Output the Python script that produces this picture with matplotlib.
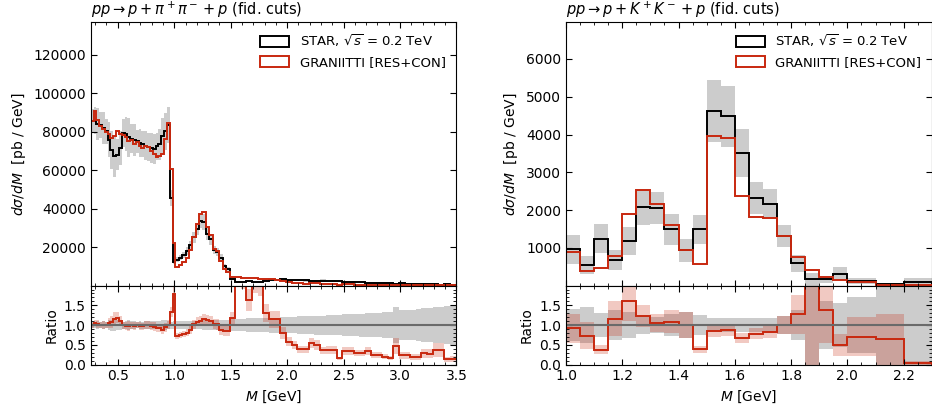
import numpy as np
import matplotlib
matplotlib.use('Agg')
import matplotlib.pyplot as plt
from matplotlib.patches import Patch
from matplotlib.ticker import MultipleLocator

# --- Data: pp -> p + pi+pi- + p ---
pipi_edges = np.round(np.concatenate([np.arange(0.26, 1.0, 0.025),
                                      np.arange(1.01, 1.48, 0.03),
                                      np.arange(1.49, 3.56, 0.05)]), 3)

star_pipi = [85700, 85700, 83900, 83300, 81900, 80100, 75800, 70600, 67100, 68000,
             71500, 79300, 78800, 77000, 76300, 75800, 74900, 74100, 73500, 72800,
             72100, 71500, 71100, 72300, 73500, 77600, 80100, 83500, 45400, 12400,
             13500, 14500, 16000, 18000, 21000, 25000, 29500, 33500, 33000, 27000,
             24000, 18500, 17500, 14500, 10000, 8500,
             3600, 1700, 1800, 2400, 1700, 1650, 2600, 2800, 2700, 3200,
             2900, 2800, 2800, 2700, 2500, 2400, 2600, 2400, 2200, 2500,
             1800, 1700, 1700, 1600, 1300, 1500, 1300, 1300, 1400, 700,
             1100, 1000, 1000, 950, 800, 750, 600, 550, 650, 550, 500]

star_pipi_relerr = [0.07, 0.08, 0.10, 0.08, 0.10, 0.08, 0.12, 0.14, 0.16, 0.12,
                    0.12, 0.09, 0.11, 0.13, 0.10, 0.11, 0.08, 0.10, 0.09, 0.10,
                    0.10, 0.11, 0.11, 0.10, 0.11, 0.12, 0.12, 0.11, 0.09, 0.10,
                    0.10, 0.10, 0.10, 0.11, 0.11, 0.11, 0.11, 0.11, 0.12, 0.12,
                    0.12, 0.12, 0.13, 0.13, 0.14, 0.14,
                    0.15, 0.16, 0.16, 0.17, 0.17, 0.18, 0.18, 0.19, 0.19, 0.20,
                    0.20, 0.21, 0.22, 0.22, 0.23, 0.24, 0.24, 0.25, 0.26, 0.26,
                    0.27, 0.28, 0.28, 0.29, 0.30, 0.30, 0.31, 0.32, 0.33, 0.45,
                    0.38, 0.38, 0.39, 0.40, 0.42, 0.43, 0.45, 0.46, 0.48, 0.50, 0.50]

gr_pipi = [85300, 90500, 86000, 83000, 81500, 80000, 79000, 76500, 77500, 80500,
           79000, 78500, 77000, 75000, 75500, 73500, 74500, 72500, 71500, 72500,
           72000, 70000, 68500, 67000, 67500, 68500, 76000, 84500, 60500, 22000,
           9800, 10800, 12300, 14500, 18500, 25500, 32000, 37000, 38000, 30500,
           26500, 19000, 17800, 12600, 8500, 7200,
           4200, 4200, 4100, 3940, 3700, 3500, 3380, 3220, 3100, 2560,
           1680, 1400, 1090, 1050, 1375, 1200, 960, 890, 810, 400,
           630, 595, 490, 464, 440, 360, 310, 260, 220, 330,
           264, 240, 200, 190, 225, 210, 222, 205, 90, 77, 70]

# --- Data: pp -> p + K+K- + p ---
kk_edges = np.round(np.concatenate([np.arange(1.0, 2.0, 0.05),
                                    np.arange(2.0, 2.35, 0.1)]), 3)

star_kk = [965, 533, 1238, 674, 1176, 2075, 2057, 1485, 930, 1485,
           4621, 4480, 3520, 2313, 2172, 1308, 586, 163, 163, 313,
           119, 31, 101]

star_kk_relerr = [0.40, 0.45, 0.31, 0.38, 0.32, 0.23, 0.21, 0.27, 0.33, 0.26,
                  0.18, 0.18, 0.18, 0.18, 0.18, 0.22, 0.39, 1.04, 0.60, 0.55,
                  0.70, 1.00, 1.00]

gr_kk = [885, 392, 463, 780, 1899, 2542, 2163, 1608, 930, 568,
         3952, 3907, 2374, 1811, 1784, 1308, 744, 401, 225, 154,
         84, 20, 5]

RED = '#c8280f'
GRAY = '0.8'
FS = 10
FS_LEG = 9.5
FS_TITLE = 10.5

plt.rcParams['font.size'] = FS
plt.rcParams['mathtext.fontset'] = 'dejavusans'

fig = plt.figure(figsize=(9.32, 4.11), dpi=100)


def style_axes(ax, xminor, yminor=None):
    ax.tick_params(which='both', direction='in', top=True, right=True, labelsize=FS)
    ax.tick_params(which='major', length=4.5)
    ax.tick_params(which='minor', length=2.2)
    ax.xaxis.set_minor_locator(MultipleLocator(xminor))
    if yminor is not None:
        ax.yaxis.set_minor_locator(MultipleLocator(yminor))


def draw_panel(x0, edges, star, relerr, gr, xlim, ylim, yticks, xmajor, xminor, title):
    star = np.array(star, dtype=float)
    relerr = np.array(relerr, dtype=float)
    gr = np.array(gr, dtype=float)

    ax = fig.add_axes([x0, 0.3052, 0.3925, 0.6413])
    axr = fig.add_axes([x0, 0.1129, 0.3925, 0.1923], sharex=ax)

    # main panel
    ax.stairs(star * (1 + relerr), edges, baseline=star * (1 - relerr),
              fill=True, color=GRAY, lw=0)
    ax.stairs(star, edges, color='black', lw=1.4)
    ax.stairs(gr, edges, color=RED, lw=1.4)
    ax.set_xlim(*xlim)
    ax.set_ylim(*ylim)
    ax.set_yticks(yticks)
    ax.set_ylabel(r'$d\sigma/dM$  [pb / GeV]', fontsize=FS)
    ax.set_title(title, loc='left', fontsize=FS_TITLE, pad=5)
    ax.tick_params(labelbottom=False)
    ax.xaxis.set_major_locator(MultipleLocator(xmajor))
    style_axes(ax, xminor)
    handles = [Patch(facecolor='none', edgecolor='black', lw=1.4),
               Patch(facecolor='none', edgecolor=RED, lw=1.4)]
    ax.legend(handles, [r'STAR, $\sqrt{s}$ = 0.2 TeV', 'GRANIITTI [RES+CON]'],
              loc='upper right', frameon=False, fontsize=FS_LEG,
              handlelength=2.2, handleheight=0.9, borderaxespad=0.4)

    # ratio panel
    ratio = gr / star
    axr.stairs(1 + relerr, edges, baseline=1 - relerr, fill=True, color=GRAY, lw=0)
    axr.stairs(ratio * (1 + relerr), edges, baseline=ratio * (1 - relerr),
               fill=True, color=RED, alpha=0.25, lw=0)
    axr.axhline(1.0, color='#6a6a6a', lw=1.5)
    axr.stairs(ratio, edges, color=RED, lw=1.4)
    axr.set_ylim(0, 2)
    axr.set_yticks([0, 0.5, 1.0, 1.5])
    axr.set_ylabel('Ratio', fontsize=FS)
    axr.set_xlabel(r'$M$ [GeV]', fontsize=FS)
    axr.xaxis.set_major_locator(MultipleLocator(xmajor))
    style_axes(axr, xminor, 0.1)
    return ax, axr


draw_panel(0.0973, pipi_edges, star_pipi, star_pipi_relerr, gr_pipi,
           (0.26, 3.5), (0, 137000), [20000, 40000, 60000, 80000, 100000, 120000],
           0.5, 0.1, r'$pp \rightarrow p + \pi^+\pi^- + p$ (fid. cuts)')
draw_panel(0.6073, kk_edges, star_kk, star_kk_relerr, gr_kk,
           (1.0, 2.3), (0, 6980), [1000, 2000, 3000, 4000, 5000, 6000],
           0.2, 0.05, r'$pp \rightarrow p + K^+K^- + p$ (fid. cuts)')

fig.savefig('out.png', dpi=100)
